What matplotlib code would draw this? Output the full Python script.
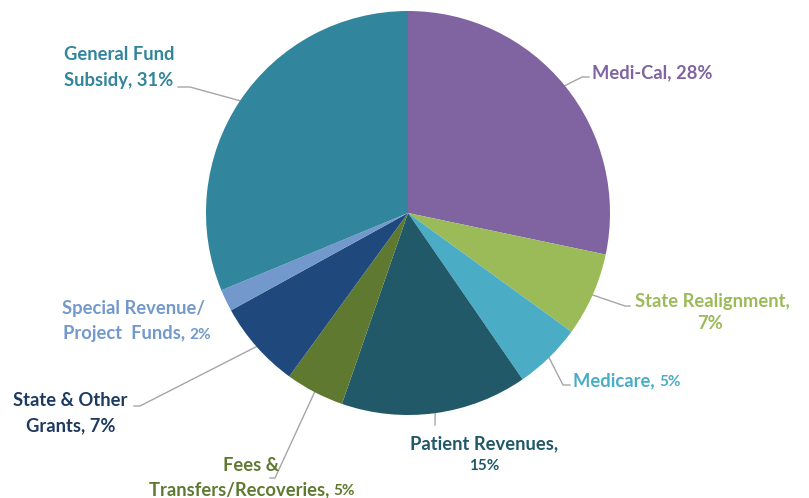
import numpy as np
import matplotlib.pyplot as plt

# funding sources, clockwise from 12 o'clock
categories = ["Medi-Cal", "State Realignment", "Medicare", "Patient Revenues",
              "Fees & Transfers/Recoveries", "State & Other Grants",
              "Special Revenue/Project Funds", "General Fund Subsidy"]
shares = [28.3, 6.7, 5.4, 14.9, 4.7, 7.0, 1.75, 31.25]
pct_labels = ["28%", "7%", "5%", "15%", "5%", "7%", "2%", "31%"]

colors = ["#8064A2", "#9BBB59", "#4BACC6", "#215968",
          "#5F7A30", "#1F497D", "#7399CC", "#31859C"]
text_colors = ["#8064A2", "#9BBB59", "#4BACC6", "#215968",
               "#5F7A30", "#1F3A60", "#7399CC", "#31859C"]

W, H = 809, 498
FONT = "Lato"
FS = 13.2
FS_SMALL = 11

fig = plt.figure(figsize=(W / 100, H / 100), dpi=100)
ax = fig.add_axes([0, 0, 1, 1])

cx, cy, r = 408, H - 213, 202
wedges, _ = ax.pie(shares, colors=colors, startangle=90, counterclock=False,
                   center=(cx, cy), radius=r, frame=True,
                   wedgeprops=dict(linewidth=0))
ax.set_xlim(0, W)
ax.set_ylim(0, H)
ax.set_aspect("equal")
ax.axis("off")

renderer = fig.canvas.get_renderer()


def put_line(xc, ytop, main, small, color):
    # one centred text line, optional smaller trailing part
    y = H - ytop
    t1 = ax.text(0, y, main, fontsize=FS, fontweight="bold", family=FONT,
                 color=color, ha="left", va="baseline")
    w1 = t1.get_window_extent(renderer).width
    w2 = 0
    t2 = None
    if small:
        t2 = ax.text(0, y, small, fontsize=FS_SMALL, fontweight="bold",
                     family=FONT, color=color, ha="left", va="baseline")
        w2 = t2.get_window_extent(renderer).width
    x0 = xc - (w1 + w2) / 2
    t1.set_x(x0)
    if t2 is not None:
        t2.set_x(x0 + w1)


# (category index, lines: (x centre, baseline y from top, main, small part))
layout = {
    0: [(652, 78, "Medi-Cal, 28%", None)],
    1: [(712, 307, "State Realignment,", None), (710, 329, "7%", None)],
    2: [(627, 386, "Medicare, ", "5%")],
    3: [(484, 449, "Patient Revenues,", None), (484, 470, None, "15%")],
    4: [(251, 471, "Fees &", None), (252, 495, "Transfers/Recoveries, ", "5%")],
    5: [(70, 406, "State & Other", None), (71, 431, "Grants, 7%", None)],
    6: [(134, 314, "Special Revenue/", None), (137, 339, "Project  Funds, ", "2%")],
    7: [(119, 60, "General Fund", None), (119, 86, "Subsidy, 31%", None)],
}

for i, lines in layout.items():
    for xc, yb, main, small in lines:
        if main is None:
            ax.text(xc, H - yb, small, fontsize=FS_SMALL, fontweight="bold",
                    family=FONT, color=text_colors[i], ha="center",
                    va="baseline")
        else:
            put_line(xc, yb, main, small, text_colors[i])

# leader lines: from mid-angle of the wedge to an elbow, then to the label
elbows = {
    0: [(582, 77), (589, 77)],
    1: [(625, 306), (630, 306)],
    2: [(563, 385), (570, 385)],
    3: [(435, 425)],
    4: [(275, 478), (270, 478)],
    5: [(140, 406), (134, 406)],
    7: [(190, 87), (178, 87)],
}
for i, pts in elbows.items():
    w = wedges[i]
    mid = np.deg2rad((w.theta1 + w.theta2) / 2)
    px = cx + r * np.cos(mid)
    py = cy + r * np.sin(mid)
    xs = [px] + [p[0] for p in pts]
    ys = [py] + [H - p[1] for p in pts]
    ax.plot(xs, ys, color="#A6A6A6", linewidth=1, zorder=0.5)

fig.savefig("out.png", dpi=100)
